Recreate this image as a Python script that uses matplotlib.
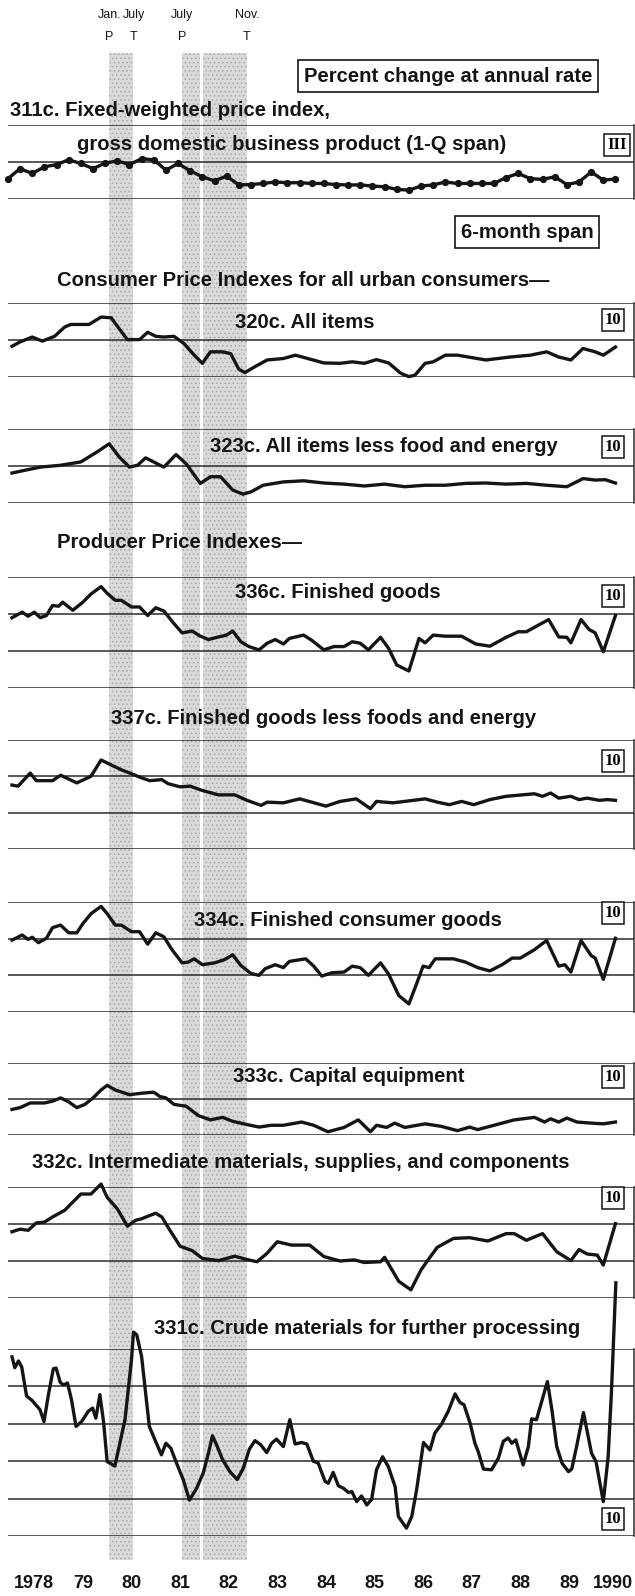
import numpy as np
import matplotlib
matplotlib.use("Agg")
import matplotlib.pyplot as plt
from matplotlib.patches import Rectangle

plt.rcParams['font.family'] = ['Liberation Sans', 'DejaVu Sans']
plt.rcParams['hatch.linewidth'] = 0.6

# ---- series: months since Jan 1978 and percent change at annual rate ----
m_311c = np.arange(-1, 150, 3)
v_311c = [5.5, 8.2, 6.9, 8.7, 9.3, 10.6, 9.6, 8.2, 9.7, 10.3, 9.3, 10.9, 10.6, 7.8, 9.6,
          7.6, 6.0, 4.9, 6.2, 3.8, 3.9, 4.2, 4.6, 4.4, 4.4, 4.2, 4.2, 3.9, 3.8, 3.8, 3.5,
          3.3, 2.6, 2.4, 3.5, 3.8, 4.6, 4.2, 4.2, 4.2, 4.2, 5.8, 6.9, 5.5, 5.3, 6.0, 3.9,
          4.6, 7.3, 5.1, 5.4]

m_320c = [0, 2, 5, 7.5, 10.5, 13, 14.5, 19, 22, 24.5, 26.5, 28.5, 31.5, 33.5, 35.5, 37.5,
          40, 42.5, 45, 47, 49, 52, 54, 56, 57.5, 60, 63, 67, 70, 74, 77, 81, 84, 87, 90,
          93, 96, 98, 99.5, 102, 104, 107, 110, 117, 123, 128, 132, 135, 138, 141, 144,
          146, 149]
v_320c = [8.3, 9.5, 10.8, 9.7, 11.0, 13.5, 14.2, 14.2, 16.2, 16.0, 13.0, 10.1, 10.1, 12.1,
          11.0, 10.8, 11.0, 9.0, 5.9, 3.7, 6.8, 6.8, 6.3, 2.1, 1.2, 2.8, 4.6, 5.0, 5.9, 4.7,
          3.8, 3.7, 4.1, 3.7, 4.7, 3.8, 1.0, 0.1, 0.5, 3.7, 4.1, 5.9, 5.9, 4.6, 5.4, 5.9,
          6.8, 5.4, 4.6, 7.7, 6.8, 5.9, 8.1]

m_323c = [0, 3, 7, 12, 17, 21, 24, 26.5, 29, 31, 33, 37.5, 40.5, 43, 46.5, 49, 51.5, 54.5,
          57, 59, 62, 67, 72, 77, 82, 87, 92, 97, 102, 107, 112, 117, 122, 127, 132, 137,
          141, 144, 146.5, 149]
v_323c = [8.1, 8.8, 9.7, 10.2, 11.1, 13.8, 16.0, 12.4, 9.7, 10.2, 12.2, 9.7, 13.1, 10.6,
          5.3, 7.1, 7.1, 3.5, 2.4, 3.0, 4.8, 5.7, 6.0, 5.4, 5.1, 4.6, 5.1, 4.4, 4.8, 4.8,
          5.3, 5.4, 5.1, 5.3, 4.8, 4.4, 6.6, 6.2, 6.3, 5.4]

m_336c = [0, 2.5, 4, 5.5, 7, 8.5, 10, 11.5, 12.5, 15, 17.5, 19.5, 22, 23.5, 25.5, 27, 29.5,
          31.5, 33.5, 35.5, 37.5, 40, 42, 44.5, 46.5, 48.5, 51, 53, 54.5, 56.5, 58.5, 61,
          63, 65, 67, 68.5, 72, 74, 77, 79.5, 82, 84, 86, 88, 91, 93, 95, 98, 100.5, 102,
          104, 107, 111, 114.5, 118, 122, 125, 127, 130, 132.5, 135, 137, 138, 140.5,
          142.5, 144, 146, 149]
v_336c = [9.0, 10.5, 9.4, 10.5, 9.0, 9.6, 12.3, 12.1, 13.2, 11.0, 13.2, 15.4, 17.4, 15.6,
          13.7, 13.7, 11.9, 11.9, 9.6, 11.7, 10.8, 7.4, 4.9, 5.4, 4.0, 3.1, 3.8, 4.3, 5.4,
          2.5, 1.2, 0.3, 2.1, 3.1, 1.9, 3.4, 4.3, 2.9, 0.3, 1.2, 1.2, 2.5, 2.1, 0.3, 3.7,
          0.7, -3.8, -5.4, 3.4, 2.2, 4.3, 4.0, 4.0, 1.9, 1.3, 3.7, 5.2, 5.2, 7.0, 8.5, 3.8,
          3.7, 2.2, 8.5, 5.8, 4.9, -0.2, 9.6]

m_337c = [0, 1.5, 4.5, 6, 10, 12, 16, 19.5, 22, 24, 27, 30, 31.5, 34, 37, 38.5, 41.5, 44,
          47, 51, 55, 58, 61.5, 63, 67, 71, 74, 77.5, 81, 85, 88.5, 90, 94, 97, 102, 105,
          108, 111, 114, 118, 122, 126, 129, 131, 133, 135, 138, 140, 142, 145, 147, 149]
v_337c = [7.6, 7.3, 10.9, 8.8, 8.8, 10.3, 8.2, 10.0, 14.5, 13.4, 11.8, 10.5, 9.8, 8.8, 9.1,
          8.0, 7.1, 7.3, 6.1, 4.9, 4.9, 3.4, 2.0, 2.9, 2.7, 3.8, 2.9, 1.8, 3.1, 3.8, 1.1,
          3.1, 2.7, 3.1, 3.8, 2.9, 2.2, 3.1, 2.2, 3.6, 4.5, 4.9, 5.2, 4.5, 5.4, 4.0, 4.5,
          3.6, 4.0, 3.4, 3.6, 3.4]

m_334c = [0, 2.5, 4, 5, 6.5, 8.5, 10, 12, 14, 16, 17.5, 19.5, 22, 23.5, 25.5, 27, 29.5,
          31.5, 33.5, 35.5, 37.5, 39.5, 42, 43.5, 45, 47, 50, 52.5, 54.5, 56.5, 59, 61,
          62.5, 65, 67, 68.5, 72.5, 74.5, 76.5, 79, 82, 84, 86, 88, 91, 93, 95.5, 98, 100,
          101.5, 103, 104.5, 109, 112, 115, 118, 121, 123.5, 125.5, 129, 132, 135, 136.5,
          138, 140.5, 143, 144, 146, 149]
v_334c = [9.6, 11.0, 9.8, 10.4, 8.9, 10.1, 13.0, 13.7, 11.6, 11.6, 14.1, 16.8, 18.8, 16.8,
          13.7, 13.7, 11.9, 11.9, 8.5, 11.6, 10.5, 7.0, 3.4, 3.6, 4.5, 2.9, 3.4, 4.3, 5.6,
          2.7, 0.5, 0.0, 1.8, 2.9, 2.1, 3.8, 4.5, 2.5, -0.2, 0.7, 0.9, 2.5, 2.1, 0.0, 3.4,
          0.3, -5.5, -7.8, -2.0, 2.5, 2.1, 4.5, 4.5, 3.6, 2.1, 1.2, 2.9, 4.7, 4.7, 7.0, 9.5,
          2.5, 2.9, 0.9, 9.5, 5.4, 4.7, -1.1, 10.1]

m_333c = [0, 2, 4.5, 8, 10, 12, 14, 16, 18, 20, 22, 23.5, 25.5, 29, 32, 35, 36.5, 38, 40,
          43, 46, 49, 52, 54.5, 58, 61, 64, 67, 71.5, 74.5, 78, 82, 85.5, 88.5, 90, 92.5,
          94.5, 97, 102, 106, 110, 113, 115, 119, 124, 129, 131.5, 133, 135, 137, 139.5,
          143, 146, 149]
v_333c = [7.1, 7.6, 8.9, 8.9, 9.4, 10.3, 9.2, 7.6, 8.5, 10.3, 12.5, 13.8, 12.5, 11.2, 11.6,
          11.9, 10.7, 10.3, 8.5, 8.0, 5.4, 4.2, 4.9, 3.8, 2.9, 2.2, 2.7, 2.7, 3.6, 2.7, 0.9,
          2.1, 4.2, 0.9, 2.7, 2.1, 3.3, 2.1, 3.1, 2.4, 1.2, 2.2, 1.5, 2.7, 4.2, 4.9, 3.6,
          4.5, 3.6, 4.7, 3.6, 3.3, 3.1, 3.6]

m_332c = [0, 2, 4, 6, 8, 10, 13, 17, 19.5, 22, 23.5, 26, 28.5, 30.5, 32, 33.5, 35.5, 37, 39,
          41.5, 44.5, 47, 51, 55, 58, 60.5, 63, 65.5, 69, 73.5, 77, 81, 84.5, 87, 91, 92,
          95.5, 98.5, 101, 103, 105, 109, 113, 117.5, 122, 124, 127, 131, 134.5, 138, 140,
          142, 144.5, 146, 149]
v_332c = [7.9, 8.6, 8.3, 10.3, 10.5, 11.9, 13.7, 18.1, 18.1, 20.8, 17.2, 14.1, 9.4, 11.0,
          11.4, 12.1, 12.9, 11.9, 8.3, 4.0, 2.8, 0.7, 0.1, 1.3, 0.4, -0.2, 2.1, 5.2, 4.3,
          4.3, 1.2, 0.0, 0.3, -0.4, -0.2, 1.0, -5.5, -7.8, -2.4, 0.7, 3.7, 6.1, 6.3, 5.4,
          7.4, 7.4, 5.6, 7.4, 2.5, 0.1, 3.1, 1.9, 1.6, -1.1, 10.1]

m_331c = [0, 0.7, 1.6, 2.4, 3.6, 4.9, 6.9, 7.9, 9, 10.2, 10.9, 11.9, 12.7, 13.7, 14.7, 15.8,
          17.2, 18.8, 19.9, 20.7, 21.7, 22.6, 23.5, 25.4, 27.9, 29.5, 30, 30.8, 32, 33.9,
          35.3, 36.9, 38, 39.2, 40.7, 42.3, 43.8, 45.6, 47.2, 48.5, 49.5, 50.5, 52, 53.8,
          55.6, 57.1, 58.6, 60, 61.4, 62.9, 64.1, 65.3, 67, 68.6, 69.9, 71.5, 72.8, 74.4,
          75.6, 77.3, 78.1, 79.3, 80.6, 81.8, 83.1, 83.9, 85.1, 86.3, 87.6, 88.8, 90, 91.5,
          92.9, 94.6, 95.4, 97.4, 98.7, 99.9, 101.6, 103.2, 104.4, 106.1, 107.7, 109.4,
          110.6, 111.6, 113.1, 114.3, 115.1, 116.4, 118.4, 120.1, 121.3, 122.5, 123.4,
          124.4, 126.2, 127.5, 128.3, 129.5, 130.8, 132.2, 133.3, 134.5, 135.8, 137.4,
          138.2, 139.4, 141.1, 143.1, 144.2, 146, 147.2, 148, 149.1]
v_331c = [17.9, 15.0, 16.8, 15.2, 7.4, 6.3, 3.8, 0.6, 7.8, 14.7, 14.9, 11.1, 10.4, 10.9,
          6.4, -0.7, 0.6, 3.3, 4.2, 1.5, 7.8, 0.6, -10.1, -11.3, 1.1, 17.1, 24.5, 23.8,
          18.0, -0.7, -4.3, -8.3, -5.2, -6.5, -10.7, -15.0, -20.4, -17.2, -13.2, -7.9,
          -3.2, -5.6, -9.6, -12.8, -14.9, -11.9, -6.8, -4.5, -5.6, -7.7, -5.2, -4.1, -6.1,
          1.1, -5.4, -5.0, -5.4, -10.0, -10.5, -15.4, -15.9, -13.0, -16.6, -17.2, -18.4,
          -18.1, -20.8, -19.3, -21.7, -20.2, -12.3, -8.8, -11.4, -16.8, -24.8, -27.9,
          -24.8, -17.7, -5.0, -7.0, -2.5, 0.0, 3.3, 8.0, 5.7, 5.1, 0.2, -5.2, -7.4, -12.1,
          -12.3, -9.2, -4.7, -3.8, -5.2, -4.3, -11.0, -6.1, 1.3, 1.1, 6.0, 11.3, 3.8, -6.1,
          -10.5, -12.8, -12.1, -6.1, 3.0, -7.9, -10.1, -20.8, -8.8, 8.2, 37.7]

# business cycle peaks (P) and troughs (T)
turn_dates = [1980.0, 1980.5, 1981.5, 1982 + 10 / 12]
turn_months = ["Jan.", "July", "July", "Nov."]
turn_kinds = ["P", "T", "P", "T"]
recessions = [(1980.0, 1980.5), (1981.5, 1981.87), (1981.93, 1982 + 10 / 12)]

year_labels = ["1978", "79", "80", "81", "82", "83", "84", "85", "86", "87", "88", "89", "1990"]

# ---- layout (pixels) ----
W, H = 635, 1596
X0, X1 = 8, 634
YEAR_PX, PX_YEAR = 12, 48.6
XLIM = (1978 + (X0 - YEAR_PX) / PX_YEAR, 1978 + (X1 - YEAR_PX) / PX_YEAR)

INK = "#151515"
GRID = "#2b2b2b"

fig = plt.figure(figsize=(W / 100, H / 100), dpi=100)
fig.patch.set_facecolor("white")


def put(x, y, s, **kw):
    return fig.text(x / W, 1 - y / H, s, **kw)


def scale_box(x, y, s="10"):
    put(x, y, s, ha="center", va="center", fontsize=12, fontweight="bold",
        family=["Liberation Serif", "DejaVu Serif"],
        bbox=dict(boxstyle="square,pad=0.18", fc="white", ec=INK, lw=1.1))


# shading for recessions, behind every panel
bg = fig.add_axes([X0 / W, 0, (X1 - X0) / W, 1])
bg.set_xlim(XLIM)
bg.set_ylim(H, 0)
bg.axis("off")
for a, b in recessions:
    bg.add_patch(Rectangle((a, 53), b - a, 1507, fc="#dadada", ec="#a9a9a9", lw=0,
                           hatch="....", zorder=0))
for d, mo, k in zip(turn_dates, turn_months, turn_kinds):
    bg.text(d, 15, mo, ha="center", va="center", fontsize=9, color=INK)
    bg.text(d, 37, k, ha="center", va="center", fontsize=9, color=INK)


def panel(top, bottom, ymin, ymax, months, values, marker=None):
    ax = fig.add_axes([X0 / W, 1 - bottom / H, (X1 - X0) / W, (bottom - top) / H])
    ax.set_xlim(XLIM)
    ax.set_ylim(ymin, ymax)
    ax.axis("off")
    ax.patch.set_visible(False)
    for g in range(ymin, ymax + 1, 10):
        ax.axhline(g, color=GRID, lw=1.1, zorder=1)
    ax.plot([XLIM[1], XLIM[1]], [ymin, ymax], color=GRID, lw=1.1, clip_on=False)
    x = 1978 + np.asarray(months) / 12
    ax.plot(x, values, color=INK, lw=2.4, solid_joinstyle="round", clip_on=False,
            marker=marker, markersize=4.2, zorder=3)
    return ax


panel(125, 199, 0, 20, m_311c, v_311c, marker="o")
panel(303, 377, 0, 20, m_320c, v_320c)
panel(429, 503, 0, 20, m_323c, v_323c)
panel(577, 688, -10, 20, m_336c, v_336c)
panel(740, 849, -10, 20, m_337c, v_337c)
panel(902, 1012, -10, 20, m_334c, v_334c)
panel(1063, 1135, 0, 20, m_333c, v_333c)
panel(1187, 1298, -10, 20, m_332c, v_332c)
panel(1349, 1536, -30, 20, m_331c, v_331c)

# ---- text ----
T = dict(fontsize=14.6, fontweight="bold", color=INK, va="center")
put(448, 76, "Percent change at annual rate", ha="center", **T,
    bbox=dict(boxstyle="square,pad=0.3", fc="white", ec=INK, lw=1.2))
put(10, 110, "311c. Fixed-weighted price index,", ha="left", **T)
put(77, 144, "gross domestic business product (1-Q span)", ha="left", **T)
scale_box(617, 145, "III")
put(527, 232, "6-month span", ha="center", **T,
    bbox=dict(boxstyle="square,pad=0.3", fc="white", ec=INK, lw=1.2))
put(57, 280, "Consumer Price Indexes for all urban consumers\u2014", ha="left", **T)
put(235, 322, "320c. All items", ha="left", **T)
scale_box(613, 320)
put(210, 447, "323c. All items less food and energy", ha="left", **T)
scale_box(613, 447)
put(57, 543, "Producer Price Indexes\u2014", ha="left", **T)
put(235, 593, "336c. Finished goods", ha="left", **T)
scale_box(613, 596)
put(111, 718, "337c. Finished goods less foods and energy", ha="left", **T)
scale_box(613, 761)
put(194, 921, "334c. Finished consumer goods", ha="left", **T)
scale_box(613, 913)
put(233, 1077, "333c. Capital equipment", ha="left", **T)
scale_box(613, 1077)
put(32, 1162, "332c. Intermediate materials, supplies, and components", ha="left", **T)
scale_box(613, 1198)
put(154, 1328, "331c. Crude materials for further processing", ha="left", **T)
scale_box(613, 1519)

for i, lab in enumerate(year_labels):
    if lab == "1990":
        bg.text(XLIM[1] - 0.03, 1583, lab, ha="right", va="center", fontsize=13,
                fontweight="bold", color=INK)
    else:
        bg.text(1978 + i + 0.46, 1583, lab, ha="center", va="center", fontsize=13,
                fontweight="bold", color=INK)

fig.savefig("out.png", dpi=100, facecolor="white")
